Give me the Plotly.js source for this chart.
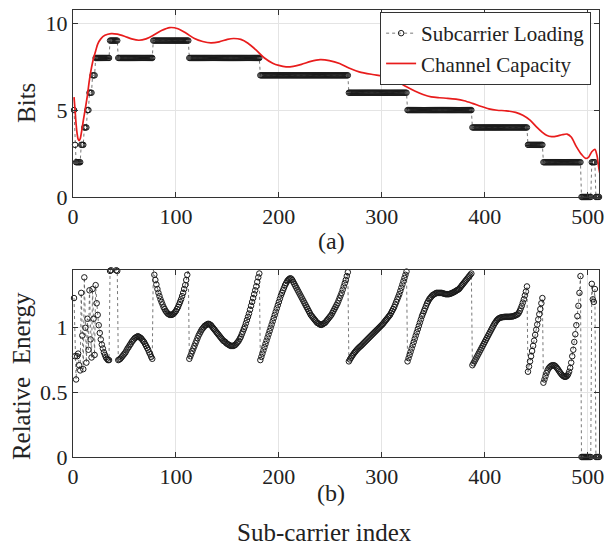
<!DOCTYPE html>
<html><head><meta charset="utf-8">
<script src="https://cdn.plot.ly/plotly-3.0.1.min.js"></script>
<style>html,body{margin:0;padding:0;background:#fff}#chart{width:605px;height:546px}</style>
</head><body><div id="chart"></div>
<script>
// ---------- data ----------
const nSub = 512;
// bit loading, run-length: first sub-carrier of each run and its bits
const bitRunStart = [1, 2, 3, 8, 11, 14, 16, 19, 22, 36, 44, 78, 113, 182, 268, 325, 388, 442, 457, 494, 504, 508];
const bitRunBits  = [5, 3, 2, 3, 4, 5, 6, 7, 8, 9, 8, 9, 8, 7, 6, 5, 4, 3, 2, 0, 2, 0];

// channel capacity (bits) read at selected sub-carriers
const capIndex = [1,2,3,4,5,6,7,8,9,10,12,14,16,18,20,22,24,27,31,37,43,50,57,64,71,78,86,94,102,110,118,126,134,142,150,156,163,170,178,186,194,200,207,214,222,231,240,249,259,268,278,291,300,308,316,324,332,340,348,356,364,372,380,388,396,404,412,421,430,437,444,450,456,460,465,470,475,480,484,489,494,498,501,504,507,509,511,512];
const capBits = [5.75,5.0,4.2,3.65,3.32,3.24,3.35,3.65,4.0,4.4,5.1,5.85,6.75,7.45,8.0,8.4,8.8,9.1,9.3,9.4,9.37,9.25,9.1,9.02,9.1,9.3,9.58,9.75,9.68,9.42,9.12,8.95,8.87,8.93,9.07,9.12,9.07,8.85,8.45,8.0,7.7,7.57,7.49,7.52,7.63,7.8,7.9,7.85,7.68,7.42,7.2,7.05,6.97,6.85,6.62,6.34,6.1,5.9,5.76,5.71,5.68,5.63,5.54,5.39,5.22,5.07,4.99,4.96,4.87,4.7,4.42,4.05,3.72,3.55,3.47,3.5,3.58,3.62,3.45,2.9,2.45,2.22,2.3,2.6,2.74,2.4,1.6,1.3];

// relative energy per sub-carrier (1..512)
const relEnergy = [
// 1-21
1.23,0.78,0.60,0.78,0.80,0.71,0.67,1.27,0.94,0.68,1.39,1.00,0.73,1.07,0.83,1.29,0.91,0.77,1.30,1.07,0.79,
// 22-35
1.33,1.19,1.10,1.02,0.96,0.91,0.87,0.84,0.81,0.79,0.77,0.76,0.75,0.75,
// 36-43
1.44,1.445,1.45,1.45,1.45,1.45,1.445,1.44,
// 44-77
0.75,0.755,0.76,0.77,0.78,0.79,0.80,0.81,0.825,0.84,0.85,0.865,0.875,0.89,0.90,0.91,0.92,0.925,0.93,0.935,
0.93,0.925,0.92,0.91,0.90,0.89,0.875,0.86,0.845,0.83,0.81,0.795,0.775,0.76,
// 78-112
1.45,1.41,1.37,1.335,1.30,1.27,1.245,1.22,1.20,1.18,1.16,1.145,1.13,1.12,1.11,1.105,1.10,1.10,
1.10,1.105,1.11,1.12,1.13,1.145,1.16,1.18,1.20,1.22,1.245,1.27,1.30,1.33,1.37,1.41,1.45,
// 113-181
0.76,0.78,0.80,0.82,0.84,0.86,0.88,0.90,0.92,0.94,0.955,0.97,0.985,0.995,1.005,1.015,1.02,1.025,1.03,
1.03,1.025,1.02,1.01,1.00,0.99,0.98,0.97,0.96,0.95,0.94,0.93,0.92,0.91,0.90,0.895,0.89,0.88,0.875,0.87,0.865,0.86,0.86,0.86,0.86,
0.865,0.87,0.88,0.89,0.90,0.915,0.93,0.95,0.97,0.99,1.01,1.035,1.06,1.085,1.11,1.14,1.17,1.20,1.23,1.26,1.29,1.32,1.355,1.39,1.42,
// 182-267
0.75,0.775,0.80,0.825,0.85,0.875,0.90,0.925,0.95,0.975,1.00,1.025,1.05,1.075,1.10,1.125,1.15,1.175,1.20,1.225,1.25,1.27,1.29,1.31,1.33,1.345,1.36,1.37,1.378,1.383,
1.38,1.37,1.355,1.34,1.325,1.31,1.295,1.28,1.265,1.25,1.235,1.22,1.205,1.19,1.175,1.16,1.145,1.13,1.115,1.10,1.09,1.08,1.07,1.06,1.05,1.04,1.035,1.03,1.025,1.022,
1.025,1.03,1.035,1.04,1.05,1.06,1.07,1.08,1.09,1.10,1.115,1.13,1.145,1.16,1.175,1.19,1.21,1.23,1.25,1.27,1.295,1.32,1.345,1.37,1.40,1.43,
// 268-324
0.74,0.755,0.768,0.78,0.792,0.803,0.813,0.823,0.832,0.84,0.848,0.855,0.862,
0.87,0.878,0.886,0.894,0.902,0.91,0.918,0.926,0.934,0.942,0.95,0.958,0.966,0.974,0.982,0.99,0.998,1.006,1.014,1.022,
1.03,1.04,1.05,1.06,1.07,1.08,1.09,1.10,1.115,1.13,1.145,1.16,1.18,1.20,1.22,1.24,1.26,1.285,1.31,1.335,1.36,1.385,1.41,1.435,
// 325-387
0.74,0.765,0.79,0.815,0.84,0.865,0.89,0.915,0.94,0.965,0.99,1.015,1.04,1.065,1.09,1.11,1.13,1.15,1.17,1.19,1.205,
1.22,1.23,1.24,1.25,1.255,1.26,1.265,1.27,1.27,1.27,1.27,1.27,1.27,1.268,1.265,1.263,1.26,1.26,1.26,1.26,
1.262,1.265,1.268,1.272,1.276,1.28,1.285,1.29,1.295,1.30,1.31,1.32,1.33,1.34,1.35,1.36,1.37,1.38,1.39,1.40,1.41,1.42,
// 388-441
0.71,0.725,0.74,0.755,0.77,0.785,0.80,0.815,0.83,0.845,0.86,0.875,0.89,0.905,0.92,0.935,0.95,0.965,0.98,0.995,
1.01,1.025,1.038,1.05,1.06,1.068,1.074,1.078,1.08,1.082,1.083,1.084,1.085,1.085,1.085,1.085,1.085,1.086,1.087,1.088,
1.09,1.093,1.097,1.10,1.105,1.115,1.13,1.15,1.17,1.195,1.22,1.25,1.28,1.32,
// 442-456
0.66,0.70,0.74,0.78,0.82,0.86,0.90,0.945,0.985,1.025,1.065,1.105,1.145,1.19,1.23,
// 457-493
0.575,0.60,0.625,0.65,0.67,0.685,0.695,0.703,0.708,0.71,0.71,0.707,0.70,0.69,0.68,
0.668,0.656,0.645,0.636,0.628,0.623,0.62,0.622,0.628,0.64,0.66,0.69,0.73,0.78,0.83,
0.89,0.95,1.02,1.09,1.17,1.27,1.40,
// 494-503
0,0,0,0,0,0,0,0,0,0,
// 504-507
1.34,1.22,1.20,1.30,
// 508-512
0,0,0,0,0
];

// ---------- build series ----------
const subIdx = [];
const bits = [];
for (let i = 1; i <= nSub; i++) {
  subIdx.push(i);
  let b = bitRunBits[0];
  for (let k = 0; k < bitRunStart.length; k++) { if (i >= bitRunStart[k]) b = bitRunBits[k]; }
  bits.push(b);
}
const eIdx = relEnergy.map((_, j) => j + 1);

const serif = 'Liberation Serif';
const axCol = '#333333';
const gridCol = '#e4e4e4';
const txtCol = '#222';

const markerStyle = {symbol: 'circle-open', size: 5.5, color: '#1a1a1a', line: {width: 1, color: '#1a1a1a'}};
const dotLine = {dash: 'dot', width: 0.8, color: '#555'};

const traces = [
  {x: subIdx, y: bits, xaxis: 'x', yaxis: 'y', type: 'scatter', mode: 'lines+markers',
   name: 'Subcarrier Loading', line: dotLine, marker: markerStyle, cliponaxis: false},
  {x: capIndex, y: capBits, xaxis: 'x', yaxis: 'y', type: 'scatter', mode: 'lines',
   name: 'Channel Capacity', line: {color: 'rgb(232,28,28)', width: 1.7, shape: 'spline', smoothing: 0.8}},
  {x: eIdx, y: relEnergy, xaxis: 'x2', yaxis: 'y2', type: 'scatter', mode: 'lines+markers',
   name: 'Relative Energy', showlegend: false, line: dotLine, marker: markerStyle, cliponaxis: false}
];

function xAx(anchor) {
  return {anchor: anchor, domain: [0, 1], range: [0, 511], tick0: 0, dtick: 100,
    ticks: 'inside', ticklen: 5, tickcolor: axCol, showline: true, mirror: 'allticks',
    linecolor: axCol, linewidth: 1, showgrid: true, gridcolor: gridCol, gridwidth: 1, zeroline: false,
    tickfont: {family: serif, size: 22, color: txtCol}};
}
function yAx(anchor, dom, rng, tv, tt) {
  return {anchor: anchor, domain: dom, range: rng, tickvals: tv, ticktext: tt,
    ticks: 'inside', ticklen: 5, tickcolor: axCol, showline: true, mirror: 'allticks',
    linecolor: axCol, linewidth: 1, showgrid: true, gridcolor: gridCol, gridwidth: 1, zeroline: false,
    tickfont: {family: serif, size: 22, color: txtCol}};
}
function label(text, x, y, xshift, size, angle) {
  return {text: text, xref: 'paper', yref: 'paper', x: x, y: y, xanchor: 'center', yanchor: 'middle',
    showarrow: false, xshift: xshift, textangle: angle || 0, font: {family: serif, size: size, color: txtCol}};
}

const layout = {
  width: 605, height: 546,
  margin: {l: 73, r: 6, t: 10, b: 89},
  paper_bgcolor: '#fff', plot_bgcolor: '#fff',
  font: {family: serif, size: 22, color: txtCol},
  showlegend: true,
  legend: {x: 0.985, xanchor: 'right', y: 0.9955, yanchor: 'top', bgcolor: '#fff',
    bordercolor: axCol, borderwidth: 1, font: {family: serif, size: 21, color: txtCol},
    itemwidth: 30, tracegroupgap: 0},
  xaxis: xAx('y'),
  yaxis: yAx('x', [0.5817, 1], [0, 10.76], [0, 5, 10], ['0', '5', '10']),
  xaxis2: xAx('y2'),
  yaxis2: yAx('x2', [0, 0.4183], [0, 1.447], [0, 0.5, 1], ['0', '0.5', '1']),
  annotations: [
    label('Bits', 0, 0.792, -46, 25, -90),
    label('Relative\u00a0\u00a0Energy', 0, 0.181, -52, 25, -90),
    label('(a)', 0.5, 0.4832, -5, 24),
    label('(b)', 0.5, -0.0805, -5, 24),
    label('Sub-carrier index', 0.5, -0.17, -12, 25)
  ]
};

Plotly.newPlot('chart', traces, layout, {displayModeBar: false, staticPlot: true});
</script></body></html>
